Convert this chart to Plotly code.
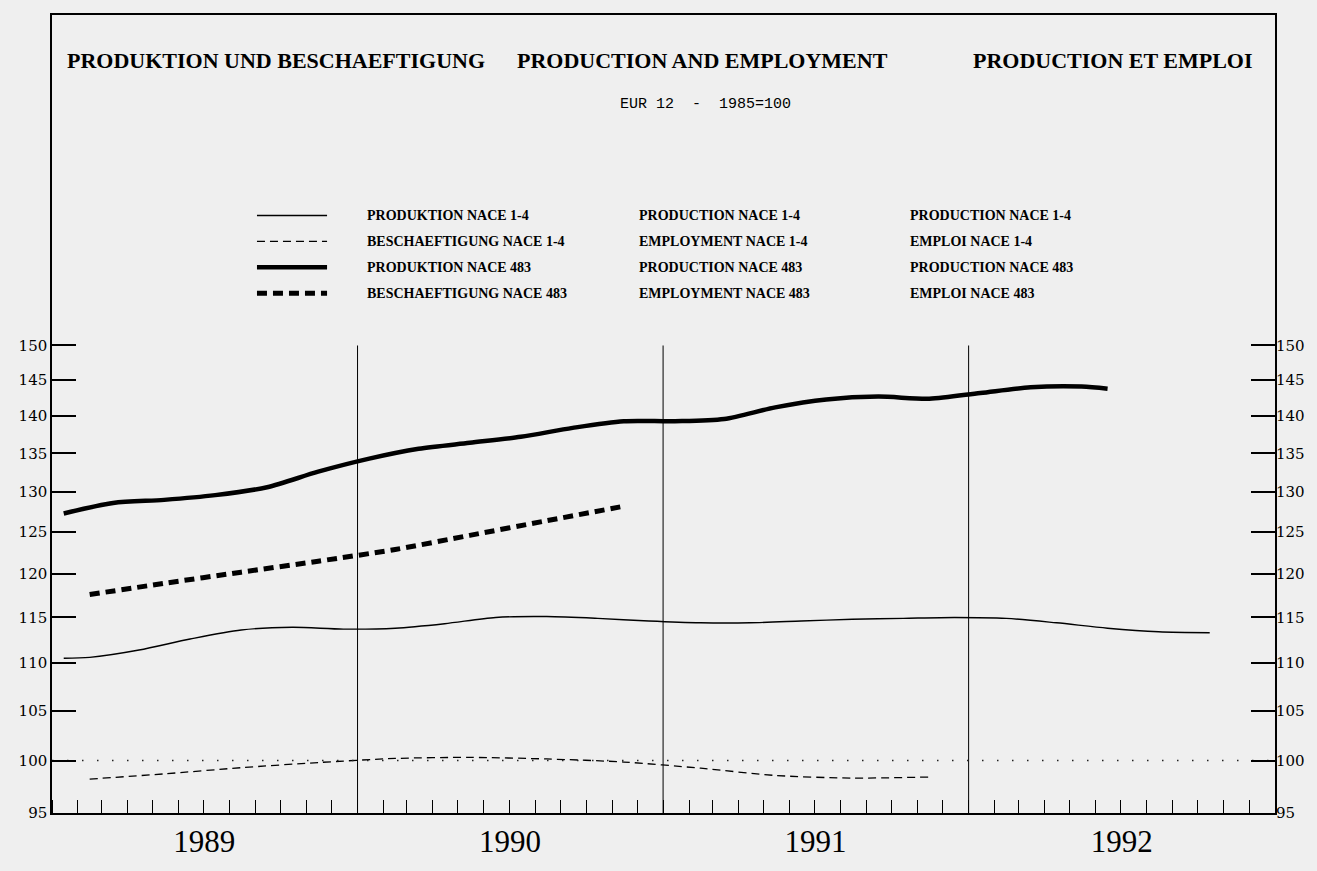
import math
import plotly.graph_objects as go

# ---------------- data (monthly index values, EUR 12, 1985=100) ----------------
prod14_months = ["1989-01", "1989-02", "1989-04", "1989-06", "1989-08", "1989-10", "1989-12",
                 "1990-02", "1990-04", "1990-06", "1990-08", "1990-10", "1990-12",
                 "1991-02", "1991-04", "1991-06", "1991-08", "1991-10", "1991-12",
                 "1992-02", "1992-04", "1992-06", "1992-08", "1992-10"]
prod14_values = [110.5, 110.6, 111.4, 112.6, 113.6, 113.9, 113.7,
                 113.8, 114.3, 115.0, 115.1, 114.9, 114.6,
                 114.4, 114.4, 114.6, 114.8, 114.9, 115.0,
                 114.9, 114.4, 113.8, 113.4, 113.3]

emp14_months = ["1989-02", "1989-05", "1989-08", "1989-11", "1990-02", "1990-05",
                "1990-08", "1990-11", "1991-02", "1991-05", "1991-08", "1991-11"]
emp14_values = [98.2, 98.7, 99.3, 99.8, 100.2, 100.3,
                100.15, 99.85, 99.25, 98.55, 98.3, 98.4]

prod483_months = ["1989-01", "1989-03", "1989-05", "1989-07", "1989-09", "1989-11",
                  "1990-01", "1990-03", "1990-05", "1990-07", "1990-09", "1990-11",
                  "1991-01", "1991-03", "1991-05", "1991-07", "1991-09", "1991-11",
                  "1992-01", "1992-03", "1992-05", "1992-06"]
prod483_values = [127.3, 128.6, 129.0, 129.6, 130.6, 132.6,
                  134.3, 135.6, 136.4, 137.2, 138.4, 139.3,
                  139.3, 139.6, 141.2, 142.3, 142.7, 142.4,
                  143.2, 144.0, 144.1, 143.8]

emp483_months = ["1989-02", "1989-05", "1989-08", "1989-11", "1990-02", "1990-05",
                 "1990-08", "1990-11"]
emp483_values = [117.6, 118.9, 120.2, 121.5, 122.9, 124.6, 126.4, 128.2]

base_value = 100
year_labels = ["1989", "1990", "1991", "1992"]
year_boundaries = ["1990-01-01", "1991-01-01", "1992-01-01"]
y_ticks = [95, 100, 105, 110, 115, 120, 125, 130, 135, 140, 145, 150]

legend_de = ["PRODUKTION NACE 1-4", "BESCHAEFTIGUNG NACE 1-4",
             "PRODUKTION NACE 483", "BESCHAEFTIGUNG NACE 483"]
legend_en = ["PRODUCTION NACE 1-4", "EMPLOYMENT NACE 1-4",
             "PRODUCTION NACE 483", "EMPLOYMENT NACE 483"]
legend_fr = ["PRODUCTION NACE 1-4", "EMPLOI NACE 1-4",
             "PRODUCTION NACE 483", "EMPLOI NACE 483"]

# ---------------- figure ----------------
def mid(months):
    return [m + "-15" for m in months]

BG = "#efefef"
TITLE_FONT = "Liberation Serif, serif"
styles = [
    dict(width=1.4, dash="solid"),
    dict(width=1.3, dash="8px,5px"),
    dict(width=4.5, dash="solid"),
    dict(width=5, dash="10px,6px"),
]

fig = go.Figure()
series = [(prod14_months, prod14_values), (emp14_months, emp14_values),
          (prod483_months, prod483_values), (emp483_months, emp483_values)]
for (mo, va), st, name in zip(series, styles, legend_en):
    fig.add_trace(go.Scatter(x=mid(mo), y=va, mode="lines", name=name,
                             line=dict(color="black", shape="spline", smoothing=0.8, **st),
                             showlegend=False, hoverinfo="skip"))

# year boundary lines
bx, by = [], []
for b in year_boundaries:
    bx += [b, b, None]
    by += [y_ticks[0], y_ticks[-1], None]
fig.add_trace(go.Scatter(x=bx, y=by, mode="lines", line=dict(color="black", width=1),
                         showlegend=False, hoverinfo="skip"))

# base line 100 (on the right axis so that axis is drawn)
fig.add_trace(go.Scatter(x=["1989-01-01", "1993-01-01"], y=[base_value, base_value], yaxis="y2",
                         mode="lines", line=dict(color="#222222", width=1.6, dash="1.5px,13.5px"),
                         showlegend=False, hoverinfo="skip"))

ylo = math.log10(95)
yrange = [ylo, ylo + 0.3386]
yfont = dict(family="DejaVu Serif, serif", size=15, color="black")
common_y = dict(type="log", range=yrange, tickmode="array", tickvals=y_ticks,
                ticktext=[str(v) for v in y_ticks], ticks="inside", ticklen=24,
                tickwidth=1.5, tickcolor="black", showgrid=False, zeroline=False,
                tickfont=yfont, fixedrange=True)

fig.update_layout(
    width=1317, height=871,
    margin=dict(l=52, r=42, t=15, b=56),
    paper_bgcolor=BG, plot_bgcolor=BG,
    xaxis=dict(type="date", range=["1989-01-01", "1993-01-01"], tickmode="array",
               tickvals=[y + "-07-02" for y in year_labels], ticktext=year_labels,
               ticks="", showline=True, mirror=True, linecolor="black", linewidth=1.5,
               showgrid=False, zeroline=False, ticklabelstandoff=0,
               tickfont=dict(family="Liberation Serif, serif", size=31, color="black"),
               minor=dict(ticks="inside", ticklen=13, tickwidth=1, tickcolor="black",
                          dtick="M1", tick0="1989-01-01", showgrid=False)),
    yaxis=dict(side="left", showline=True, mirror=True, linecolor="black", linewidth=1.5,
               **common_y),
    yaxis2=dict(side="right", overlaying="y", showline=False, **common_y),
    showlegend=False,
)

# titles
tfont = dict(family=TITLE_FONT, size=22, color="black")
fig.add_annotation(text="<b>PRODUKTION UND BESCHAEFTIGUNG</b>", x=0.0106, y=0.9425,
                   xref="paper", yref="paper", xanchor="left", yanchor="middle",
                   showarrow=False, font=tfont)
fig.add_annotation(text="<b>PRODUCTION AND EMPLOYMENT</b>", x=0.5315, y=0.9425,
                   xref="paper", yref="paper", xanchor="center", yanchor="middle",
                   showarrow=False, font=tfont)
fig.add_annotation(text="<b>PRODUCTION ET EMPLOI</b>", x=0.9836, y=0.9425,
                   xref="paper", yref="paper", xanchor="right", yanchor="middle",
                   showarrow=False, font=tfont)
fig.add_annotation(text="EUR 12 &nbsp;- &nbsp;1985=100", x=0.534, y=0.8875,
                   xref="paper", yref="paper", xanchor="center", yanchor="middle",
                   showarrow=False, font=dict(family="Liberation Mono, monospace", size=15, color="black"))

# custom legend
row_y = [0.74875, 0.71625, 0.68375, 0.65125]
lfont = dict(family=TITLE_FONT, size=14, color="black")
for i, st in enumerate(styles):
    fig.add_shape(type="line", xref="paper", yref="paper", x0=0.1676, x1=0.2249,
                  y0=row_y[i], y1=row_y[i], line=dict(color="black", **st))
    for col_x, texts in zip([0.2559, 0.4783, 0.6999], [legend_de, legend_en, legend_fr]):
        fig.add_annotation(text="<b>" + texts[i] + "</b>", x=col_x, y=row_y[i],
                           xref="paper", yref="paper", xanchor="left", yanchor="middle",
                           showarrow=False, font=lfont)

fig.write_html(
    "out.html",
    config={"displayModeBar": False},
    post_script="document.body.style.margin='0';document.body.style.background='#efefef';"
                "document.body.style.overflow='hidden';",
)
